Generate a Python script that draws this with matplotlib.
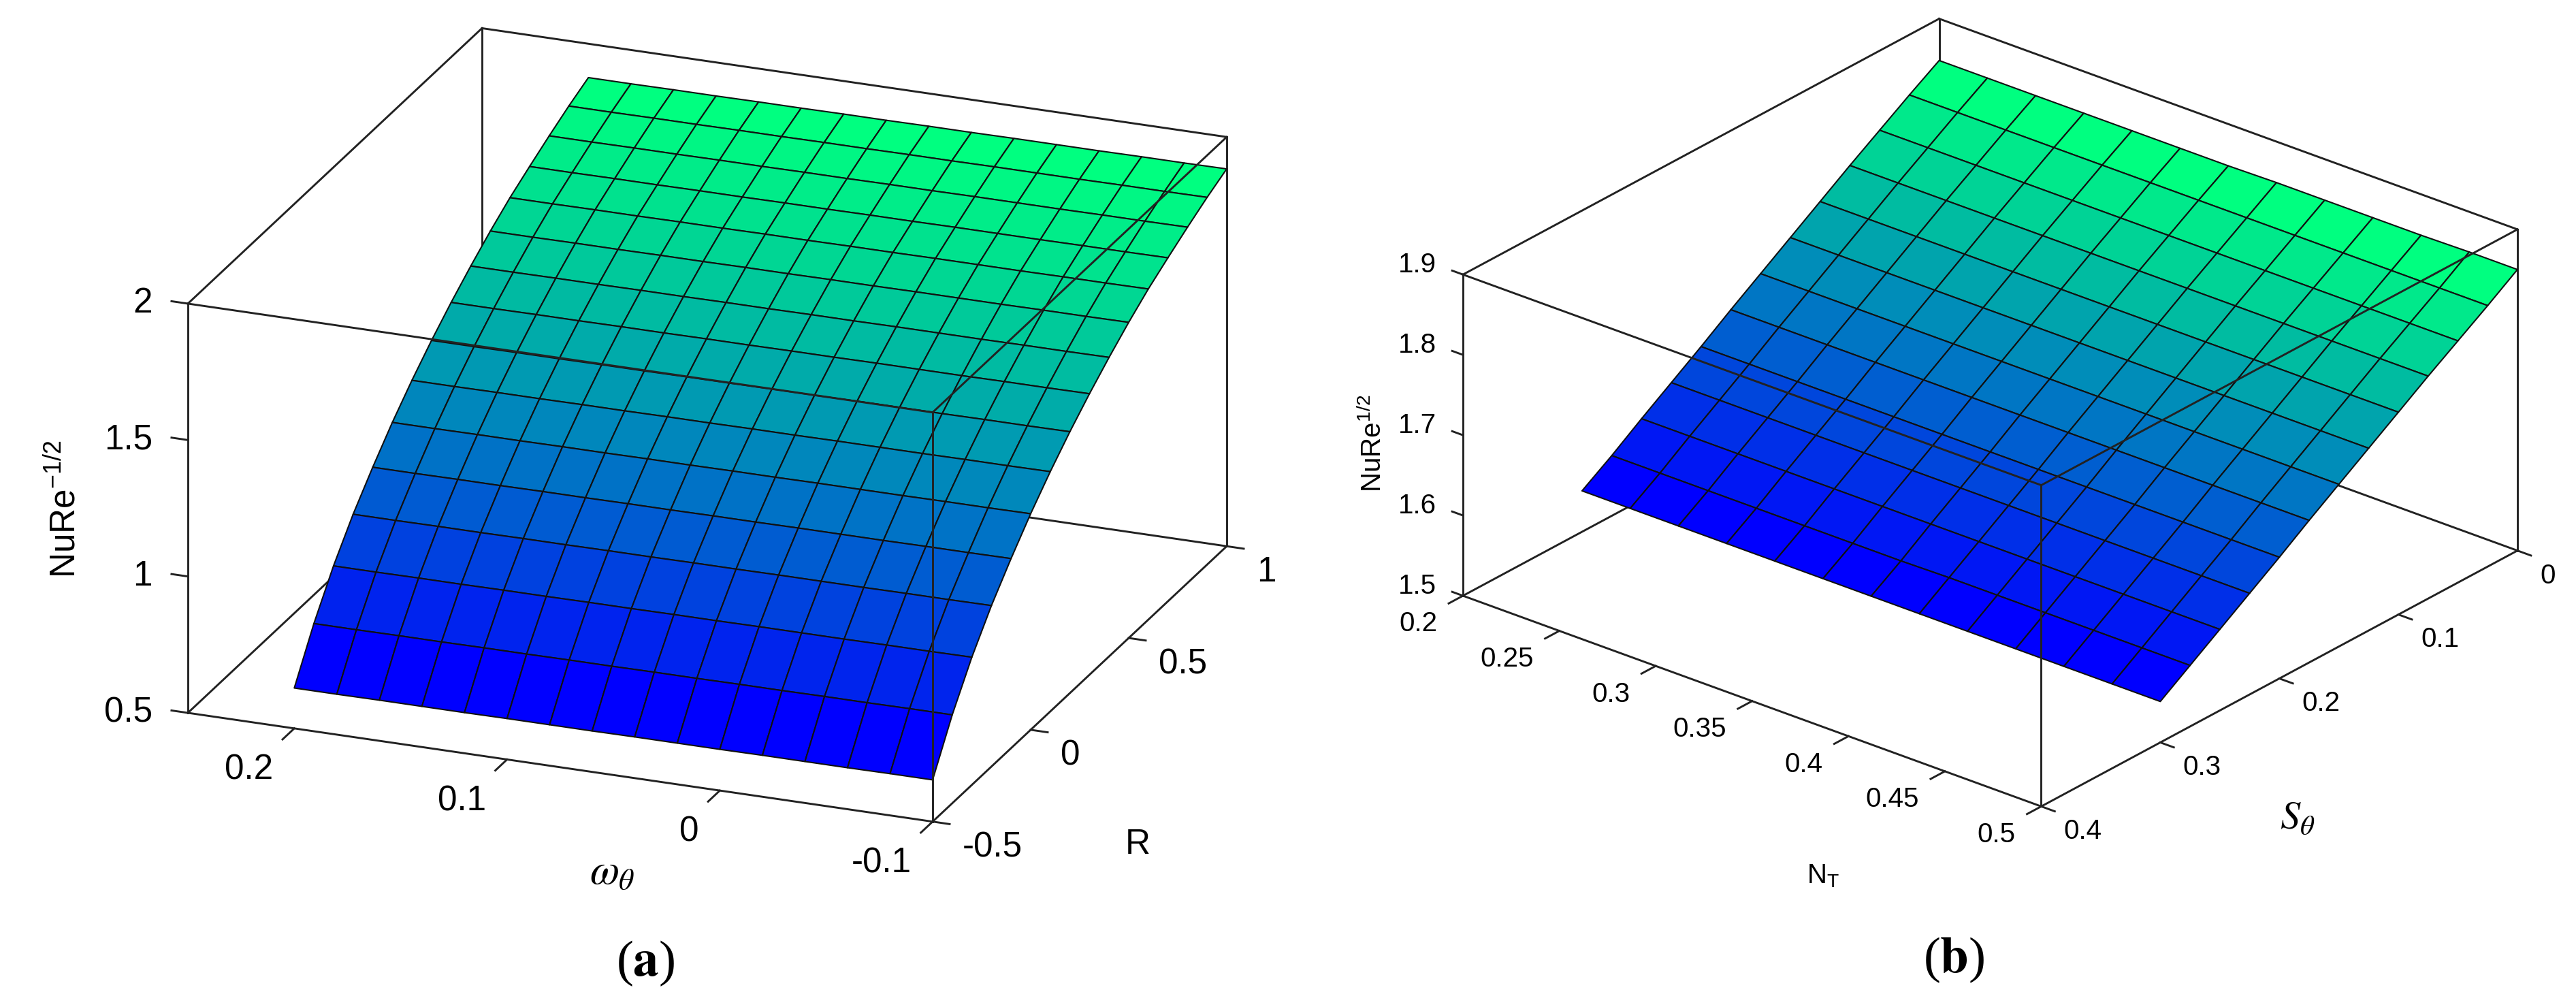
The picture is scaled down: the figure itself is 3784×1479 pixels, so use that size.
import numpy as np
import matplotlib
matplotlib.use('Agg')
import matplotlib.pyplot as plt
from mpl_toolkits.mplot3d import proj3d

W, H = 3784, 1479

omega = [0.2, 0.18, 0.16, 0.14, 0.12, 0.1, 0.08, 0.06, 0.04, 0.02, 0.0, -0.02, -0.04, -0.06, -0.08, -0.1]
R = [-0.5, -0.4, -0.3, -0.2, -0.1, 0.0, 0.1, 0.2, 0.3, 0.4, 0.5, 0.6, 0.7, 0.8, 0.9, 1.0]
# one row per R value, one column per omega value
nu_a = [
    [0.648, 0.648, 0.649, 0.649, 0.649, 0.650, 0.650, 0.650, 0.651, 0.651, 0.651, 0.652, 0.652, 0.652, 0.653, 0.653],
    [0.817, 0.817, 0.818, 0.818, 0.819, 0.819, 0.820, 0.820, 0.821, 0.821, 0.822, 0.822, 0.823, 0.823, 0.824, 0.824],
    [0.961, 0.961, 0.962, 0.962, 0.963, 0.963, 0.964, 0.964, 0.965, 0.965, 0.966, 0.966, 0.966, 0.967, 0.967, 0.968],
    [1.083, 1.083, 1.084, 1.084, 1.085, 1.085, 1.086, 1.086, 1.087, 1.087, 1.088, 1.088, 1.088, 1.089, 1.089, 1.090],
    [1.188, 1.188, 1.189, 1.189, 1.190, 1.190, 1.191, 1.191, 1.192, 1.192, 1.193, 1.193, 1.193, 1.194, 1.194, 1.195],
    [1.285, 1.285, 1.286, 1.286, 1.287, 1.287, 1.288, 1.288, 1.289, 1.289, 1.290, 1.290, 1.290, 1.291, 1.291, 1.292],
    [1.372, 1.372, 1.373, 1.373, 1.374, 1.374, 1.375, 1.375, 1.376, 1.376, 1.377, 1.377, 1.377, 1.378, 1.378, 1.379],
    [1.451, 1.451, 1.452, 1.452, 1.453, 1.453, 1.454, 1.454, 1.455, 1.455, 1.456, 1.456, 1.456, 1.457, 1.457, 1.458],
    [1.523, 1.523, 1.524, 1.524, 1.525, 1.525, 1.526, 1.526, 1.527, 1.527, 1.528, 1.528, 1.528, 1.529, 1.529, 1.530],
    [1.589, 1.589, 1.590, 1.590, 1.591, 1.591, 1.592, 1.592, 1.593, 1.593, 1.594, 1.594, 1.594, 1.595, 1.595, 1.596],
    [1.650, 1.650, 1.651, 1.651, 1.652, 1.652, 1.653, 1.653, 1.654, 1.654, 1.655, 1.655, 1.655, 1.656, 1.656, 1.657],
    [1.705, 1.705, 1.706, 1.706, 1.707, 1.707, 1.708, 1.708, 1.709, 1.709, 1.710, 1.710, 1.710, 1.711, 1.711, 1.712],
    [1.752, 1.752, 1.753, 1.753, 1.754, 1.754, 1.755, 1.755, 1.756, 1.756, 1.757, 1.757, 1.757, 1.758, 1.758, 1.759],
    [1.797, 1.797, 1.798, 1.798, 1.799, 1.799, 1.800, 1.800, 1.801, 1.801, 1.802, 1.802, 1.802, 1.803, 1.803, 1.804],
    [1.839, 1.839, 1.840, 1.840, 1.841, 1.841, 1.842, 1.842, 1.843, 1.843, 1.844, 1.844, 1.844, 1.845, 1.845, 1.846],
    [1.876, 1.876, 1.877, 1.877, 1.878, 1.878, 1.879, 1.879, 1.880, 1.880, 1.881, 1.881, 1.881, 1.882, 1.882, 1.883],
]
omega_ticks = [0.2, 0.1, 0.0, -0.1]
omega_labels = ['0.2', '0.1', '0', '-0.1']
R_ticks = [-0.5, 0.0, 0.5, 1.0]
R_labels = ['-0.5', '0', '0.5', '1']
za_ticks = [0.5, 1.0, 1.5, 2.0]
za_labels = ['0.5', '1', '1.5', '2']

NT = [0.2, 0.225, 0.25, 0.275, 0.3, 0.325, 0.35, 0.375, 0.4, 0.425, 0.45, 0.475, 0.5]
S = [0.3, 0.275, 0.25, 0.225, 0.2, 0.175, 0.15, 0.125, 0.1, 0.075, 0.05, 0.025, 0.0]
# one row per S value, one column per NT value
nu_b = [
    [1.551, 1.551, 1.551, 1.551, 1.551, 1.551, 1.551, 1.551, 1.551, 1.551, 1.551, 1.551, 1.551],
    [1.575, 1.575, 1.575, 1.575, 1.575, 1.575, 1.575, 1.576, 1.576, 1.576, 1.576, 1.576, 1.576],
    [1.601, 1.601, 1.601, 1.601, 1.601, 1.601, 1.601, 1.601, 1.601, 1.601, 1.601, 1.601, 1.601],
    [1.626, 1.626, 1.626, 1.626, 1.626, 1.626, 1.626, 1.626, 1.626, 1.626, 1.626, 1.626, 1.626],
    [1.651, 1.651, 1.651, 1.651, 1.651, 1.651, 1.651, 1.651, 1.651, 1.651, 1.651, 1.651, 1.651],
    [1.677, 1.677, 1.677, 1.677, 1.677, 1.677, 1.677, 1.677, 1.677, 1.677, 1.677, 1.677, 1.677],
    [1.702, 1.702, 1.702, 1.702, 1.702, 1.702, 1.702, 1.702, 1.702, 1.702, 1.702, 1.702, 1.702],
    [1.727, 1.727, 1.727, 1.727, 1.727, 1.727, 1.727, 1.727, 1.727, 1.727, 1.727, 1.727, 1.727],
    [1.752, 1.752, 1.752, 1.752, 1.752, 1.752, 1.752, 1.752, 1.752, 1.752, 1.752, 1.752, 1.752],
    [1.777, 1.777, 1.777, 1.777, 1.777, 1.777, 1.777, 1.777, 1.777, 1.777, 1.777, 1.777, 1.777],
    [1.801, 1.801, 1.801, 1.801, 1.801, 1.801, 1.801, 1.801, 1.801, 1.801, 1.801, 1.801, 1.801],
    [1.825, 1.825, 1.825, 1.825, 1.825, 1.825, 1.825, 1.825, 1.825, 1.825, 1.825, 1.825, 1.825],
    [1.848, 1.848, 1.848, 1.848, 1.848, 1.848, 1.848, 1.849, 1.849, 1.849, 1.849, 1.850, 1.850],
]
NT_ticks = [0.2, 0.25, 0.3, 0.35, 0.4, 0.45, 0.5]
NT_labels = ['0.2', '0.25', '0.3', '0.35', '0.4', '0.45', '0.5']
S_ticks = [0.4, 0.3, 0.2, 0.1, 0.0]
S_labels = ['0.4', '0.3', '0.2', '0.1', '0']
zb_ticks = [1.5, 1.6, 1.7, 1.8, 1.9]
zb_labels = ['1.5', '1.6', '1.7', '1.8', '1.9']

plt.rcParams['font.family'] = ['Liberation Sans', 'DejaVu Sans']
plt.rcParams['mathtext.fontset'] = 'stix'
plt.rcParams['mathtext.default'] = 'regular'

fig = plt.figure(figsize=(W / 300, H / 300), dpi=300)
LW = 0.7


def place_axes(ax, p0, p1, t0, t1):
    # move the square axes so world points p0, p1 land on pixels t0, t1
    ax.apply_aspect()
    M = ax.get_proj()
    u0, v0, _ = proj3d.proj_transform(*p0, M)
    u1, v1, _ = proj3d.proj_transform(*p1, M)
    d0 = ax.transData.transform((u0, v0))
    d1 = ax.transData.transform((u1, v1))
    pos = ax.get_position()
    x0, y0, side = pos.x0 * W, pos.y0 * H, pos.width * W
    new_side = side * (t1[0] - t0[0]) / (d1[0] - d0[0])
    new_x0 = t0[0] - new_side * (d0[0] - x0) / side
    new_y0 = (H - t0[1]) - new_side * (d0[1] - y0) / side
    ax.set_position([new_x0 / W, new_y0 / H, new_side / W, new_side / H])


def draw_box(ax, xl, yl, zl):
    # xl[1], yl[0] is the corner nearest the viewer, xl[0], yl[1] the far one
    def seg(a, b, z):
        ax.plot([a[0], b[0]], [a[1], b[1]], [a[2], b[2]], color='#222222', lw=LW, zorder=z, clip_on=False)
    left, front, right, back = (xl[0], yl[0]), (xl[1], yl[0]), (xl[1], yl[1]), (xl[0], yl[1])
    for p, q in [(left, front), (front, right)]:
        seg((*p, zl[0]), (*q, zl[0]), 3)
    for p, q in [(left, back), (back, right)]:
        seg((*p, zl[0]), (*q, zl[0]), 1)
        seg((*p, zl[1]), (*q, zl[1]), 1)
    for p in [left, back, right]:
        seg((*p, zl[0]), (*p, zl[1]), 1)
    seg((*front, zl[0]), (*front, zl[1]), 3)
    seg((*left, zl[1]), (*front, zl[1]), 3)
    seg((*front, zl[1]), (*right, zl[1]), 3)


def tick(ax, a, b):
    ax.plot([a[0], b[0]], [a[1], b[1]], [a[2], b[2]], color='#222222', lw=LW, zorder=3, clip_on=False)


def tick_label(ax, x, y, z, s, **kw):
    # project the 3d anchor and keep the label as plain 2d text
    u, v, _ = proj3d.proj_transform(x, y, z, ax.get_proj())
    ax.text2D(u, v, s, va='center', zorder=5, **kw)


# ---- panel a ----
xl, yl, zl = (0.25, -0.1), (-0.5, 1.0), (0.5, 2.0)
ax1 = fig.add_axes([0.1, 0.0, H / W, 1.0], projection='3d', computed_zorder=False, proj_type='ortho')
ax1.set_axis_off()
ax1.view_init(elev=21.7, azim=-68.45)
ax1.set_box_aspect((1.0, 1.0, 0.55), zoom=0.8)
ax1.set_xticks([])
ax1.set_yticks([])
ax1.set_zticks([])
ax1.set_xlim(*xl, view_margin=0)
ax1.set_ylim(*yl, view_margin=0)
ax1.set_zlim(*zl, view_margin=0)
place_axes(ax1, (xl[0], yl[0], zl[0]), (xl[1], yl[1], zl[1]), (276, 1047), (1802, 201))

draw_box(ax1, xl, yl, zl)
X, Y = np.meshgrid(omega, R)
Z = np.array(nu_a)
ax1.plot_surface(X, Y, Z, rstride=1, cstride=1, cmap='winter', vmin=Z[:2].mean(), vmax=Z[-2:].mean(),
                 edgecolor='#101010', linewidth=0.5, antialiased=True, zorder=2, shade=False)
for v, lab in zip(omega_ticks, omega_labels):
    tick(ax1, (v, yl[0], zl[0]), (v, yl[0] - 0.06, zl[0]))
    tick_label(ax1, v, yl[0] - 0.108, zl[0] - 0.08, lab, fontsize=12.3, ha='right')
for v, lab in zip(R_ticks, R_labels):
    tick(ax1, (xl[1], v, zl[0]), (xl[1] - 0.008, v, zl[0]))
    tick_label(ax1, xl[1] - 0.014, v, zl[0] - 0.08, lab, fontsize=12.3, ha='left')
for v, lab in zip(za_ticks, za_labels):
    tick(ax1, (xl[0], yl[0], v), (xl[0] + 0.0077, yl[0], v))
    tick_label(ax1, xl[0] + 0.0166, yl[0], v - 0.019, lab, fontsize=12.3, ha='right')

# ---- panel b ----
xl, yl, zl = (0.2, 0.5), (0.4, 0.0), (1.5, 1.9)
ax2 = fig.add_axes([0.5, 0.0, H / W, 1.0], projection='3d', computed_zorder=False, proj_type='ortho')
ax2.set_axis_off()
ax2.view_init(elev=26.25, azim=-50.53)
ax2.set_box_aspect((1.0, 1.0, 0.478), zoom=0.8)
ax2.set_xticks([])
ax2.set_yticks([])
ax2.set_zticks([])
ax2.set_xlim(*xl, view_margin=0)
ax2.set_ylim(*yl, view_margin=0)
ax2.set_zlim(*zl, view_margin=0)
place_axes(ax2, (xl[0], yl[0], zl[0]), (xl[1], yl[1], zl[1]), (2149, 875), (3698, 338))

draw_box(ax2, xl, yl, zl)
X, Y = np.meshgrid(NT, S)
Z = np.array(nu_b)
ax2.plot_surface(X, Y, Z, rstride=1, cstride=1, cmap='winter', vmin=Z[:2].mean(), vmax=Z[-2:].mean(),
                 edgecolor='#101010', linewidth=0.5, antialiased=True, zorder=2, shade=False)
for v, lab in zip(NT_ticks, NT_labels):
    tick(ax2, (v, yl[0], zl[0]), (v, yl[0] + 0.012, zl[0]))
    tick_label(ax2, v, yl[0] + 0.0215, zl[0] - 0.018, lab, fontsize=9.7, ha='right')
for v, lab in zip(S_ticks, S_labels):
    tick(ax2, (xl[1], v, zl[0]), (xl[1] + 0.007, v, zl[0]))
    tick_label(ax2, xl[1] + 0.0117, v, zl[0] - 0.021, lab, fontsize=9.7, ha='left')
for v, lab in zip(zb_ticks, zb_labels):
    tick(ax2, (xl[0], yl[0], v), (xl[0] - 0.0056, yl[0], v))
    tick_label(ax2, xl[0] - 0.0138, yl[0], v, lab, fontsize=9.7, ha='right')


# axis titles and panel letters, given in reference pixels
def label(px, py, s, **kw):
    fig.text(px / W, 1 - py / H, s, ha='center', va='center', **kw)


label(96, 748, 'NuRe$^{-1/2}$', fontsize=12.3, rotation=90)
label(899, 1282, r'$\mathit{\omega}_{\mathit{\theta}}$', fontsize=15)
label(1671, 1240, 'R', fontsize=12.3)
label(2017, 651, 'NuRe$^{1/2}$', fontsize=9.7, rotation=90)
label(2678, 1287, 'N$_{T}$', fontsize=9.7)
label(3375, 1202, r'$\mathit{S}_{\mathit{\theta}}$', fontsize=14)
label(948, 1415, r'($\mathbf{a}$)', fontsize=18, family='Liberation Serif')
label(2870, 1410, r'($\mathbf{b}$)', fontsize=18, family='Liberation Serif')

plt.savefig('out.png', dpi=300)
